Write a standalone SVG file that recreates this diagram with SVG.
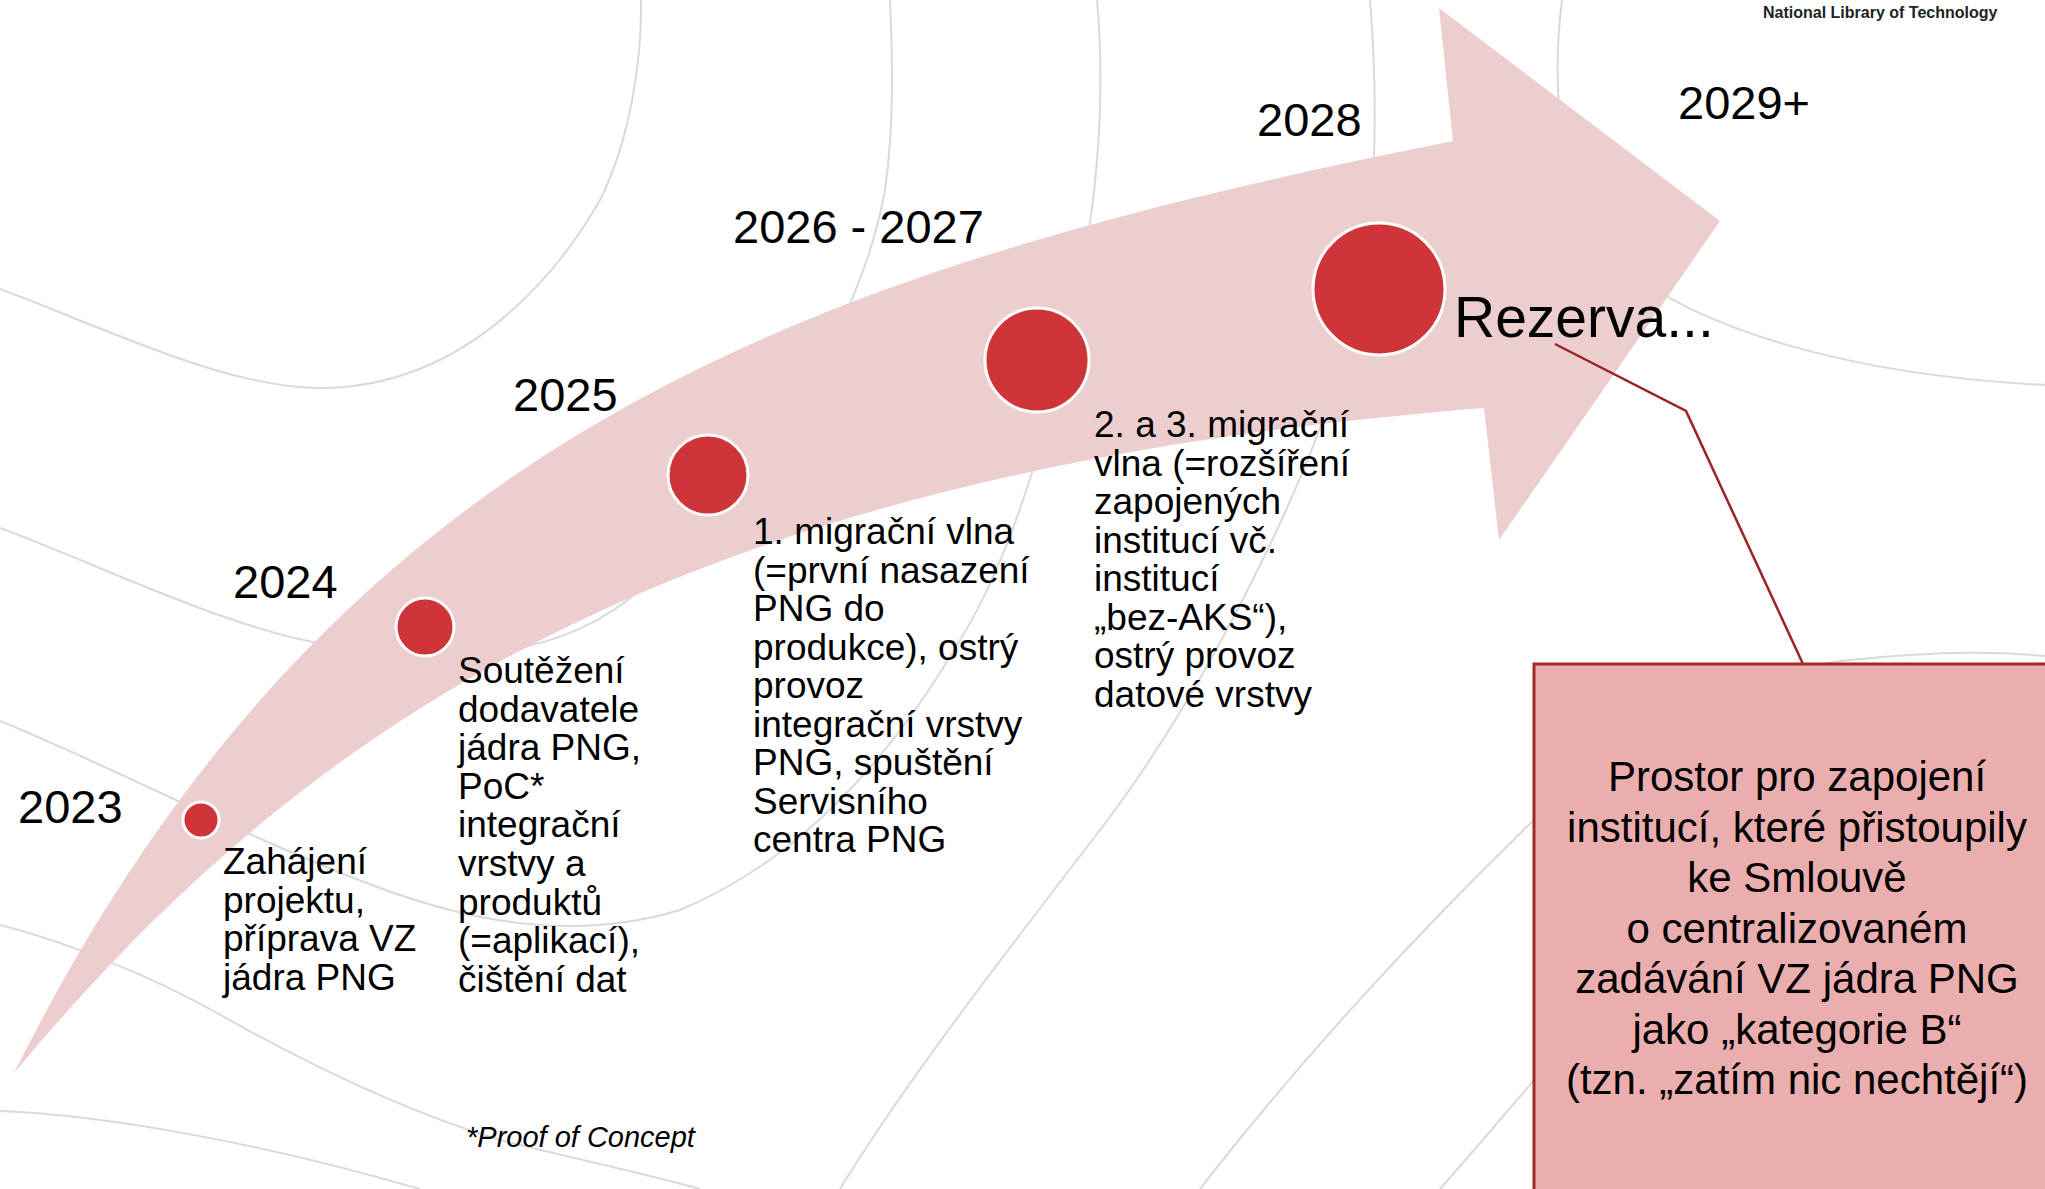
<svg xmlns="http://www.w3.org/2000/svg" width="2045" height="1189" viewBox="0 0 2045 1189">
  <style>
    .bg { fill: none; stroke: #d9d9d9; stroke-width: 2; }
    .dot { fill: #cf3538; stroke: #ffffff; stroke-width: 3; }
    .year { font-family: "Liberation Sans", Arial, sans-serif; font-size: 47px; fill: #000; }
    .desc { font-family: "Liberation Sans", Arial, sans-serif; font-size: 37px; fill: #000; }
    .box { fill: #ebaeae; stroke: #a3282c; stroke-width: 3; }
    .boxtxt { font-family: "Liberation Sans", Arial, sans-serif; font-size: 42px; fill: #000; text-anchor: middle; }
    .callout { fill: none; stroke: #9b2326; stroke-width: 2.5; }
  </style>
  <rect x="0" y="0" width="2045" height="1189" fill="#ffffff"/>
  <g id="background">
    <path class="bg" d="M0,289 C110,330 230,390 325,388 C470,385 560,270 600,200 C630,140 642,60 641,0"/>
    <path class="bg" d="M0,528 C100,565 230,630 330,645 C450,665 560,660 640,590 C760,480 860,330 885,190 C895,120 892,50 890,0"/>
    <path class="bg" d="M1097,0 C1105,90 1100,200 1070,330 C1045,440 1010,560 960,640 C890,760 800,860 680,910 C580,940 480,925 380,888 C250,840 120,770 0,721"/>
    <path class="bg" d="M1370,0 C1378,100 1380,250 1340,370 C1300,500 1200,700 1100,830 C1000,960 900,1090 840,1189"/>
    <path class="bg" d="M1562,0 C1552,80 1555,200 1620,265 C1700,330 1850,375 2045,385"/>
    <path class="bg" d="M1200,1189 C1300,1060 1420,930 1534,820 C1640,720 1750,670 1850,660 C1950,650 2000,652 2045,656"/>
    <path class="bg" d="M1534,1080 C1500,1120 1470,1155 1440,1189"/>
    <path class="bg" d="M0,925 C60,940 150,975 217,1013 C300,1060 400,1110 500,1140 C580,1160 650,1175 700,1189"/>
    <path class="bg" d="M0,1111 C100,1115 250,1140 420,1189"/>
  </g>
  <g id="arrow">
    <path fill="#eccecf" d="M14,1073 C334,433 803,271 1453,141 L1439,8 L1720,221 L1499,540 L1484,408 C684,472 314,713 14,1073 Z"/>
  </g>
  <text x="1763" y="18" font-family="Liberation Sans, Arial, sans-serif" font-weight="bold" font-size="16" fill="#222">National Library of Technology</text>
  <g id="m2023">
    <circle class="dot" cx="201" cy="820" r="18"/>
    <text class="year" x="18" y="823">2023</text>
    <text class="desc" x="223" y="874">Zahájení<tspan x="223" dy="38.6">projektu,</tspan><tspan x="223" dy="38.6">příprava VZ</tspan><tspan x="223" dy="38.6">jádra PNG</tspan></text>
  </g>
  <g id="m2024">
    <circle class="dot" cx="425" cy="627" r="29"/>
    <text class="year" x="233" y="598">2024</text>
    <text class="desc" x="458" y="683">Soutěžení<tspan x="458" dy="38.6">dodavatele</tspan><tspan x="458" dy="38.6">jádra PNG,</tspan><tspan x="458" dy="38.6">PoC*</tspan><tspan x="458" dy="38.6">integrační</tspan><tspan x="458" dy="38.6">vrstvy a</tspan><tspan x="458" dy="38.6">produktů</tspan><tspan x="458" dy="38.6">(=aplikací),</tspan><tspan x="458" dy="38.6">čištění dat</tspan></text>
  </g>
  <g id="m2025">
    <circle class="dot" cx="708" cy="475" r="40"/>
    <text class="year" x="513" y="411">2025</text>
    <text class="desc" x="753" y="544">1. migrační vlna<tspan x="753" dy="38.5">(=první nasazení</tspan><tspan x="753" dy="38.5">PNG do</tspan><tspan x="753" dy="38.5">produkce), ostrý</tspan><tspan x="753" dy="38.5">provoz</tspan><tspan x="753" dy="38.5">integrační vrstvy</tspan><tspan x="753" dy="38.5">PNG, spuštění</tspan><tspan x="753" dy="38.5">Servisního</tspan><tspan x="753" dy="38.5">centra PNG</tspan></text>
  </g>
  <g id="m2026">
    <circle class="dot" cx="1037" cy="360" r="52"/>
    <text class="year" x="733" y="243">2026 - 2027</text>
    <text class="desc" x="1094" y="437">2. a 3. migrační<tspan x="1094" dy="38.5">vlna (=rozšíření</tspan><tspan x="1094" dy="38.5">zapojených</tspan><tspan x="1094" dy="38.5">institucí vč.</tspan><tspan x="1094" dy="38.5">institucí</tspan><tspan x="1094" dy="38.5">„bez-AKS“),</tspan><tspan x="1094" dy="38.5">ostrý provoz</tspan><tspan x="1094" dy="38.5">datové vrstvy</tspan></text>
  </g>
  <g id="m2028">
    <circle class="dot" cx="1379" cy="289" r="66"/>
    <text class="year" x="1257" y="136">2028</text>
    <text x="1454" y="337" font-family="Liberation Sans, Arial, sans-serif" font-size="57" fill="#000">Rezerva...</text>
  </g>
  <g id="m2029">
    <text class="year" x="1678" y="119">2029+</text>
  </g>
  <g id="connectors">
    <polyline class="callout" points="1555,344 1686,411 1803,664"/>
  </g>
  <g id="note-box">
    <rect class="box" x="1534" y="664" width="530" height="540"/>
    <text class="boxtxt" x="1797" y="791">Prostor pro zapojení<tspan x="1797" dy="50.5">institucí, které přistoupily</tspan><tspan x="1797" dy="50.5">ke Smlouvě</tspan><tspan x="1797" dy="50.5">o centralizovaném</tspan><tspan x="1797" dy="50.5">zadávání VZ jádra PNG</tspan><tspan x="1797" dy="50.5">jako „kategorie B“</tspan><tspan x="1797" dy="50.5">(tzn. „zatím nic nechtějí“)</tspan></text>
  </g>
  <text x="466" y="1147" font-family="Liberation Sans, Arial, sans-serif" font-style="italic" font-size="29" fill="#000">*Proof of Concept</text>
</svg>
